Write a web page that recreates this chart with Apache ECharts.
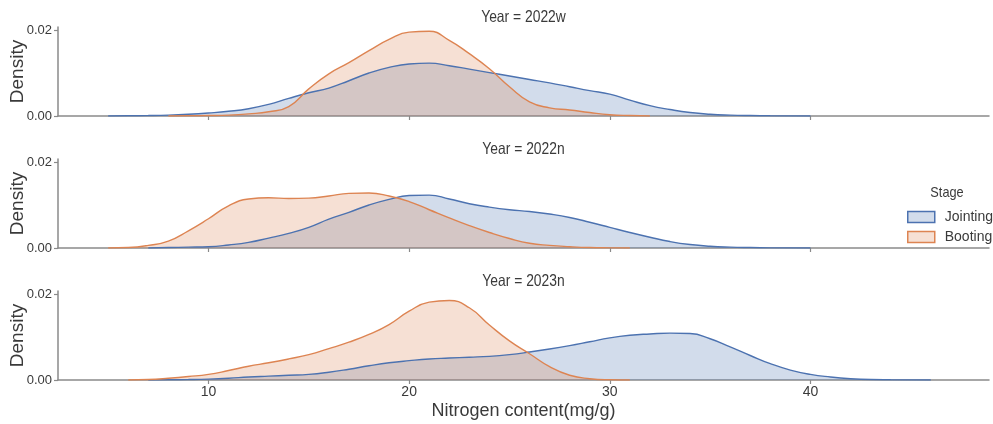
<!DOCTYPE html>
<html>
<head>
<meta charset="utf-8">
<script src="https://cdn.jsdelivr.net/npm/echarts@6/dist/echarts.min.js"></script>
<style>html,body{margin:0;padding:0;background:#fff;}#c{width:993px;height:424px;}</style>
</head>
<body>
<div id="c"></div>
<script>
// ---- data ----
var panelTitles = ['Year = 2022w', 'Year = 2022n', 'Year = 2023n'];
var stages = ['Jointing', 'Booting'];
var xTicks = [10, 20, 30, 40];
var yTicks = [0, 0.02];
var xAxisTitle = 'Nitrogen content(mg/g)';
var yAxisTitle = 'Density';
var legendTitle = 'Stage';

// 2022w
var j2022wX = [5, 6, 7, 8, 9, 10, 11, 12, 13, 14, 15, 16, 17, 18, 19, 20, 21, 22, 23, 24, 25, 26, 27, 28, 29, 30, 31, 32, 33, 34, 35, 36, 37, 38, 40];
var j2022wY = [0, 0.00005, 0.0001, 0.0002, 0.0004, 0.0007, 0.0011, 0.0017, 0.0027, 0.0041, 0.0054, 0.0065, 0.0082, 0.0100, 0.0113, 0.0121, 0.0123, 0.0117, 0.0109, 0.0101, 0.0093, 0.0085, 0.0077, 0.0068, 0.0059, 0.0051, 0.0037, 0.0024, 0.0015, 0.0008, 0.0004, 0.0002, 0.0001, 0.00005, 0];
var b2022wX = [8, 9, 10, 11, 12, 13, 14, 15, 16, 17, 18, 19, 20, 21, 22, 23, 24, 25, 26, 27, 28, 29, 30, 31, 32];
var b2022wY = [0, 0.00005, 0.0001, 0.0002, 0.0005, 0.0010, 0.0022, 0.0063, 0.0098, 0.0124, 0.0152, 0.0178, 0.0195, 0.0197, 0.0176, 0.0145, 0.0110, 0.0068, 0.0033, 0.0019, 0.0014, 0.0008, 0.0003, 0.0001, 0];

// 2022n
var j2022nX = [7, 8, 9, 10, 11, 12, 13, 14, 15, 16, 17, 18, 19, 20, 21, 22, 23, 24, 25, 26, 27, 28, 29, 30, 31, 32, 33, 34, 35, 36, 37, 38, 40];
var j2022nY = [0, 0.0001, 0.0002, 0.0003, 0.0007, 0.0013, 0.0023, 0.0034, 0.0048, 0.0067, 0.0083, 0.0100, 0.0113, 0.0122, 0.0123, 0.0114, 0.0103, 0.0095, 0.0089, 0.0085, 0.0079, 0.0071, 0.0060, 0.0048, 0.0036, 0.0025, 0.0015, 0.0008, 0.0004, 0.0002, 0.0001, 0.00004, 0];
var b2022nX = [5, 6, 7, 8, 9, 10, 11, 12, 13, 14, 15, 16, 17, 18, 19, 20, 21, 22, 23, 24, 25, 26, 27, 28, 29, 30, 31];
var b2022nY = [0, 0.0001, 0.0006, 0.0016, 0.0040, 0.0068, 0.0098, 0.0114, 0.0117, 0.0115, 0.0116, 0.0121, 0.0127, 0.0128, 0.0121, 0.0108, 0.0089, 0.0070, 0.0052, 0.0036, 0.0022, 0.0011, 0.0006, 0.0003, 0.0001, 0.00003, 0];

// 2023n
var j2023nX = [7, 8, 9, 10, 11, 12, 13, 14, 15, 16, 17, 18, 19, 20, 21, 22, 23, 24, 25, 26, 27, 28, 29, 30, 31, 32, 33, 34, 35, 36, 37, 38, 39, 40, 41, 42, 43, 44, 46];
var j2023nY = [0, 0.00005, 0.0001, 0.0002, 0.0004, 0.0007, 0.0009, 0.0011, 0.0013, 0.0018, 0.0025, 0.0033, 0.0040, 0.0045, 0.0049, 0.0051, 0.0053, 0.0055, 0.0059, 0.0065, 0.0072, 0.0080, 0.0089, 0.0098, 0.0104, 0.0107, 0.0109, 0.0108, 0.0096, 0.0077, 0.0057, 0.0038, 0.0023, 0.0013, 0.0007, 0.0003, 0.0001, 0.00005, 0];
var b2023nX = [6, 7, 8, 9, 10, 11, 12, 13, 14, 15, 16, 17, 18, 19, 20, 21, 22, 23, 24, 25, 26, 27, 28, 29, 30, 31];
var b2023nY = [0, 0.0001, 0.0004, 0.0008, 0.0013, 0.0022, 0.0032, 0.0040, 0.0049, 0.0059, 0.0073, 0.0088, 0.0106, 0.0129, 0.0160, 0.0181, 0.0185, 0.0168, 0.0128, 0.0091, 0.0061, 0.0031, 0.0011, 0.0003, 0.00005, 0];

var panels = [
  {J: [j2022wX, j2022wY], B: [b2022wX, b2022wY]},
  {J: [j2022nX, j2022nY], B: [b2022nX, b2022nY]},
  {J: [j2023nX, j2023nY], B: [b2023nX, b2023nY]}
];

// ---- chart ----
var REG = '"Liberation Sans", Arial, sans-serif';
var blue = '#4c72b0', orange = '#dd8452';
var axisCol = '#8a8a8a', textCol = '#3a3a3a';

var tops = [27, 159, 291];
var grids = [], xAxes = [], yAxes = [], series = [], graphics = [];
function pairs(a) { return a[0].map(function (x, i) { return [x, a[1][i]]; }); }

tops.forEach(function (t, i) {
  grids.push({left: 58, right: 4, top: t, height: 89, outerBoundsMode: 'none', containLabel: false});
  var last = i === 2;
  xAxes.push({
    type: 'value', gridIndex: i, min: 2.5, max: 48.9,
    axisLine: {show: true, lineStyle: {color: axisCol, width: 1.5}},
    axisTick: {show: true, length: 4, customValues: xTicks, lineStyle: {color: axisCol, width: 1.2}},
    axisLabel: {show: last, customValues: xTicks, margin: 5, fontSize: 14, color: textCol, fontFamily: REG},
    splitLine: {show: false},
    name: last ? xAxisTitle : '', nameLocation: 'middle', nameGap: 22,
    nameTextStyle: {fontSize: 18, color: textCol, fontFamily: REG}
  });
  yAxes.push({
    type: 'value', gridIndex: i, min: 0, max: 0.0207,
    axisLine: {show: true, lineStyle: {color: axisCol, width: 1.5}},
    axisTick: {show: true, length: 4, customValues: yTicks, lineStyle: {color: axisCol, width: 1.2}},
    axisLabel: {customValues: yTicks, margin: 6, fontSize: 13, color: textCol, fontFamily: REG,
      formatter: function (v) { return v.toFixed(2); }},
    splitLine: {show: false},
    name: yAxisTitle, nameLocation: 'middle', nameGap: 31, nameRotate: 90, nameMoveOverlap: false,
    nameTextStyle: {fontSize: 19, color: textCol, fontFamily: REG}
  });
  graphics.push({
    type: 'text', x: 523.5, y: t - 9.5, scaleX: 0.84, originX: 0, originY: 0,
    style: {text: panelTitles[i], fontSize: 16.5, fill: textCol, fontFamily: REG,
      textAlign: 'center', textVerticalAlign: 'middle', verticalAlign: 'middle'},
    silent: true
  });
  [['Jointing', blue, panels[i].J], ['Booting', orange, panels[i].B]].forEach(function (s) {
    series.push({
      name: s[0], type: 'line', xAxisIndex: i, yAxisIndex: i,
      data: pairs(s[2]), smooth: 0.5, showSymbol: false, silent: true,
      lineStyle: {color: s[1], width: 1.4},
      itemStyle: {color: s[1]},
      areaStyle: {color: s[1], opacity: 0.25}
    });
  });
});
graphics.push({
  type: 'text', x: 947, y: 193, scaleX: 0.85, originX: 0, originY: 0,
  style: {text: legendTitle, fontSize: 15, fill: textCol, fontFamily: REG,
    textAlign: 'center', textVerticalAlign: 'middle', verticalAlign: 'middle'},
  silent: true
});

var chart = echarts.init(document.getElementById('c'), null, {renderer: 'canvas'});
chart.setOption({
  animation: false,
  backgroundColor: '#fff',
  grid: grids,
  xAxis: xAxes,
  yAxis: yAxes,
  graphic: graphics,
  legend: {
    orient: 'vertical', left: 907, top: 210, padding: 0, itemGap: 6,
    itemWidth: 27, itemHeight: 11, icon: 'rect',
    textStyle: {fontSize: 14, color: textCol, fontFamily: REG, padding: [0, 0, 0, 5]},
    data: [
      {name: 'Jointing', itemStyle: {color: 'rgba(76,114,176,0.25)', borderColor: blue, borderWidth: 1.5}},
      {name: 'Booting', itemStyle: {color: 'rgba(221,132,82,0.25)', borderColor: orange, borderWidth: 1.5}}
    ]
  },
  series: series
});
</script>
</body>
</html>
